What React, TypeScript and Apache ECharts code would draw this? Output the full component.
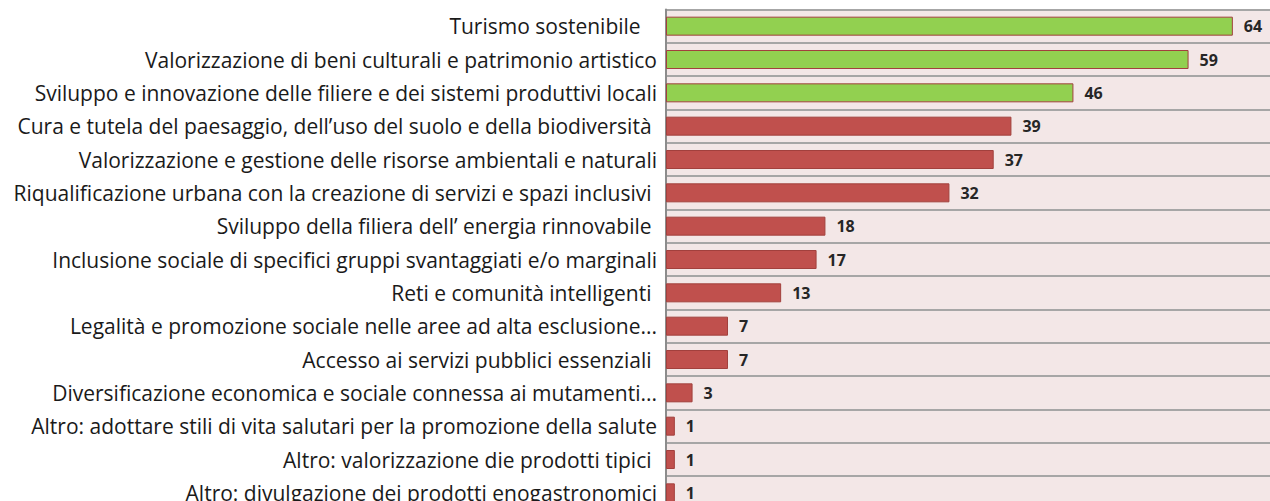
import React, { useEffect, useRef } from "react";
import * as echarts from "echarts";

const categories = [
  "Turismo sostenibile   ",
  "Valorizzazione di beni culturali e patrimonio artistico",
  "Sviluppo e innovazione delle filiere e dei sistemi produttivi locali",
  "Cura e tutela del paesaggio, dell’uso del suolo e della biodiversità ",
  "Valorizzazione e gestione delle risorse ambientali e naturali",
  "Riqualificazione urbana con la creazione di servizi e spazi inclusivi ",
  "Sviluppo della filiera dell’ energia rinnovabile ",
  "Inclusione sociale di specifici gruppi svantaggiati e/o marginali",
  "Reti e comunità intelligenti ",
  "Legalità e promozione sociale nelle aree ad alta esclusione...",
  "Accesso ai servizi pubblici essenziali ",
  "Diversificazione economica e sociale connessa ai mutamenti...",
  "Altro: adottare stili di vita salutari per la promozione della salute",
  "Altro: valorizzazione die prodotti tipici ",
  "Altro: divulgazione dei prodotti enogastronomici",
];

const values = [64, 59, 46, 39, 37, 32, 18, 17, 13, 7, 7, 3, 1, 1, 1];
const highlighted = [true, true, true, false, false, false, false, false, false, false, false, false, false, false, false];

export default function App() {
  const ref = useRef<HTMLDivElement>(null);
  useEffect(() => {
    if (!ref.current) return;
    const chart = echarts.init(ref.current, undefined, { renderer: "svg" });
    chart.setOption({
      animation: false,
      backgroundColor: "#ffffff",
      grid: {
        left: 666,
        top: 9.5,
        width: 620,
        height: 500,
        show: true,
        backgroundColor: "#f3e7e7",
        borderWidth: 0,
        containLabel: false,
      },
      xAxis: {
        type: "value",
        min: 0,
        max: 70,
        show: false,
        splitLine: { show: false },
      },
      yAxis: {
        type: "category",
        inverse: true,
        data: categories,
        axisLine: { show: true, lineStyle: { color: "#8c8c8c", width: 2 } },
        axisTick: { show: false },
        splitLine: { show: true, lineStyle: { color: "#a6a6a6", width: 2 } },
        axisLabel: {
          margin: 9,
          fontFamily: "Open Sans",
          fontSize: 21,
          color: "#1a1a1a",
        },
      },
      series: [
        {
          type: "bar",
          barWidth: 19,
          data: values.map((v, i) => ({
            value: v,
            itemStyle: {
              color: highlighted[i] ? "#92d050" : "#c0504d",
              borderColor: "#a2403d",
              borderWidth: 1,
            },
          })),
          label: {
            show: true,
            position: "right",
            distance: 11,
            fontFamily: "Open Sans",
            fontWeight: "bold",
            fontSize: 16,
            color: "#262626",
          },
        },
      ],
    });
    return () => chart.dispose();
  }, []);
  return (
    <div
      ref={ref}
      style={{ position: "fixed", left: 0, top: 0, width: 1300, height: 520 }}
    />
  );
}
